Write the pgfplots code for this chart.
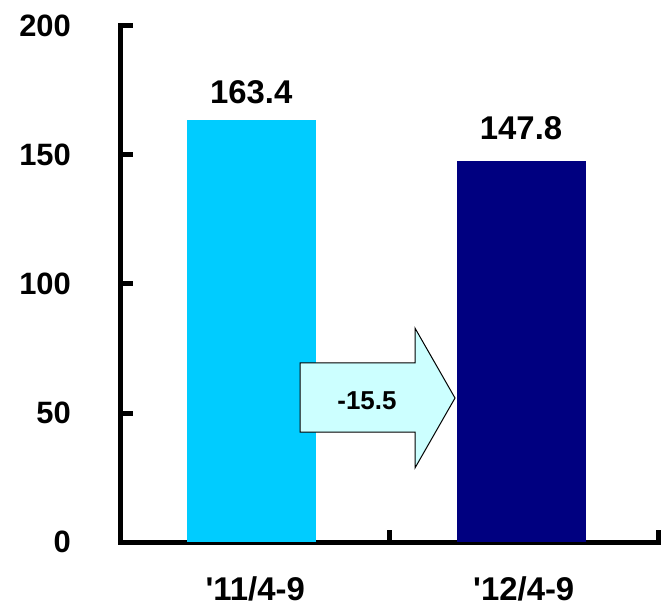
\documentclass[border=0pt]{standalone}
\usepackage{pgfplots}
\pgfplotsset{compat=1.18}
\usepackage{fontspec}
\setmainfont{Liberation Sans}
\definecolor{barA}{HTML}{00CCFF}
\definecolor{barB}{HTML}{000080}
\definecolor{arrowfill}{HTML}{CCFFFF}
\begin{document}
\begin{tikzpicture}
\begin{axis}[
  scale only axis,
  width=537bp, height=516bp,
  xmin=-0.5, xmax=1.5, ymin=0, ymax=200,
  axis lines=left,
  axis line style={-, line width=5bp, line cap=rect},
  every tick/.style={black, line width=5bp},
  tick align=inside,
  major tick length=12bp,
  ytick={0,50,100,150,200},
  xtick={-0.5,0.5,1.5},
  xticklabels={},
  extra x ticks={0,1},
  extra x tick labels={{\textquotesingle 11/4-9},{\textquotesingle 12/4-9}},
  extra x tick style={major tick length=0pt, xticklabel style={anchor=base, yshift=-58bp, inner sep=0pt, font=\fontsize{33}{36}\selectfont\bfseries}},
  yticklabel style={anchor=east, xshift=-50bp, inner sep=0pt, font=\fontsize{31}{34}\selectfont\bfseries},
  /pgf/number format/assume math mode=true,
  clip=false,
]
\addplot[ybar, bar width=0.48, bar shift=0pt, fill=barA, draw=none,
  nodes near coords={\pgfmathprintnumber[fixed,fixed zerofill,precision=1,assume math mode=true]{\pgfplotspointmeta}},
  every node near coord/.style={anchor=base, yshift=17bp, inner sep=0pt, font=\fontsize{33}{36}\selectfont\bfseries}]
  coordinates {(-0.015,163.4)};
\addplot[ybar, bar width=0.48, bar shift=0pt, fill=barB, draw=none,
  nodes near coords={\pgfmathprintnumber[fixed,fixed zerofill,precision=1,assume math mode=true]{\pgfplotspointmeta}},
  every node near coord/.style={anchor=base, yshift=21bp, inner sep=0pt, font=\fontsize{33}{36}\selectfont\bfseries}]
  coordinates {(0.99,147.8)};
\addplot[fill=arrowfill, draw=black, line width=1bp, line join=miter] coordinates {
  (0.1667,42.6) (0.595,42.6) (0.595,28.7) (0.744,55.8) (0.595,82.9) (0.595,69.4) (0.1667,69.4)
} -- cycle;
\node[anchor=base, inner sep=0pt, font=\fontsize{26}{28}\selectfont\bfseries] at (axis cs:0.416,51.3) {-15.5};
\coordinate (O) at (axis cs:-0.5,0);
\end{axis}
\pgfresetboundingbox
\path ([shift={(-121bp,-64bp)}]O) rectangle ([shift={(548bp,542bp)}]O);
\end{tikzpicture}
\end{document}
